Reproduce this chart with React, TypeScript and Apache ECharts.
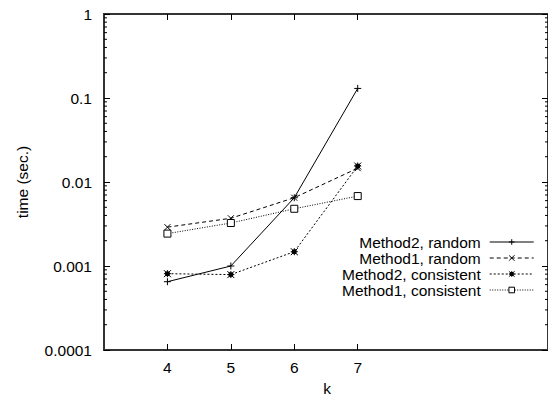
import React, { useEffect, useRef } from "react";
import * as echarts from "echarts";

const kValues = [4, 5, 6, 7];
const method2Random = [0.00065, 0.001, 0.0065, 0.13];
const method1Random = [0.0029, 0.0037, 0.0065, 0.0146];
const method2Consistent = [0.00081, 0.00079, 0.00148, 0.0155];
const method1Consistent = [0.00243, 0.00325, 0.0048, 0.0068];

const seriesNames = [
  "Method2, random",
  "Method1, random",
  "Method2, consistent",
  "Method1, consistent",
];
const xTicks = [4, 5, 6, 7];
const yTickLabels = ["0.0001", "0.001", "0.01", "0.1", "1"];
const yDecades = [0.0001, 0.001, 0.01, 0.1];
const minorMultipliers = [2, 3, 4, 5, 6, 7, 8, 9];

const FONT = "'Liberation Sans', Arial, Helvetica, sans-serif";

export default function App() {
  const ref = useRef<HTMLDivElement>(null);
  useEffect(() => {
    if (!ref.current) return;
    const chart = echarts.init(ref.current, undefined, { renderer: "svg" });
    const pairs = (ys: number[]) => kValues.map((k, i) => [k, ys[i]]);
    const minorData: number[][] = [];
    yDecades.forEach((d) => minorMultipliers.forEach((m) => minorData.push([3, d * m])));

    const lineBase = (name: string, ys: number[], dash: any, symbol: string, size: number, fill: string) => ({
      name,
      type: "line",
      data: pairs(ys),
      symbol,
      symbolSize: size,
      showSymbol: true,
      lineStyle: { color: "#000", width: 1, type: dash },
      itemStyle: { color: fill, borderColor: "#000", borderWidth: 1 },
      emphasis: { disabled: true },
      z: 3,
    });

    chart.setOption({
      animation: false,
      textStyle: { fontFamily: FONT },
      grid: {
        left: 104,
        top: 14,
        width: 448,
        height: 336,
        show: true,
        borderColor: "#333",
        borderWidth: 2,
        backgroundColor: "transparent",
      },
      xAxis: [
        {
          type: "value",
          min: 3,
          max: 10,
          axisLine: { show: false },
          splitLine: { show: false },
          axisTick: { show: true, inside: true, length: 6, customValues: xTicks, lineStyle: { color: "#000", width: 1 } },
          axisLabel: { customValues: xTicks, margin: 9, color: "#000", fontSize: 15.5, fontFamily: FONT },
        },
        {
          type: "value",
          position: "top",
          min: 3,
          max: 10,
          axisLine: { show: false },
          splitLine: { show: false },
          axisTick: { show: true, inside: true, length: 6, customValues: xTicks, lineStyle: { color: "#000", width: 1 } },
          axisLabel: { show: false },
        },
      ],
      yAxis: [
        {
          type: "log",
          logBase: 10,
          min: 0.0001,
          max: 1,
          axisLine: { show: false },
          splitLine: { show: false },
          axisTick: { show: true, inside: true, length: 6, lineStyle: { color: "#000", width: 1 } },
          axisLabel: {
            margin: 12,
            color: "#000",
            fontSize: 15.5,
            fontFamily: FONT,
            formatter: (v: number) => {
              const idx = Math.round(Math.log10(v)) + 4;
              return yTickLabels[idx] ?? "";
            },
          },
        },
        {
          type: "log",
          logBase: 10,
          min: 0.0001,
          max: 1,
          position: "right",
          axisLine: { show: false },
          splitLine: { show: false },
          axisTick: { show: true, inside: true, length: 6, lineStyle: { color: "#000", width: 1 } },
          axisLabel: { show: false },
        },
      ],
      legend: {
        data: seriesNames,
        orient: "vertical",
        left: 337,
        top: 229,
        align: "right",
        itemWidth: 44,
        itemHeight: 7,
        itemGap: 0,
        selectedMode: false,
        lineStyle: { width: 1 },
        itemStyle: { borderWidth: 1 },
        textStyle: {
          fontSize: 15.5,
          color: "#000",
          fontFamily: FONT,
          width: 136,
          align: "right",
          padding: [0, 4, 0, 0],
        },
      },
      series: [
        lineBase(seriesNames[0], method2Random, "solid", "path://M0,4H8M4,0V8", 7, "none"),
        lineBase(seriesNames[1], method1Random, [4, 3], "path://M0,0L8,8M8,0L0,8", 6, "none"),
        lineBase(
          seriesNames[2],
          method2Consistent,
          [2, 2],
          "path://M2,2H6V6H2Z M0,4H8 M4,0V8 M0,0L8,8 M8,0L0,8",
          7,
          "#000"
        ),
        lineBase(seriesNames[3], method1Consistent, [1, 1.5], "rect", 7, "#fff"),
        {
          type: "custom",
          name: "minorTicks",
          silent: true,
          data: minorData,
          clip: false,
          renderItem: (params: any, api: any) => {
            const p = api.coord([3, api.value(1)]);
            const pr = api.coord([10, api.value(1)]);
            const style = { stroke: "#000", lineWidth: 1 };
            return {
              type: "group",
              children: [
                { type: "line", shape: { x1: p[0], y1: p[1], x2: p[0] + 3, y2: p[1] }, style },
                { type: "line", shape: { x1: pr[0], y1: pr[1], x2: pr[0] - 3, y2: pr[1] }, style },
              ],
            };
          },
        },
      ],
      graphic: [
        {
          type: "text",
          x: 22,
          y: 182,
          rotation: Math.PI / 2,
          style: {
            text: "time (sec.)",
            fontSize: 15.5,
            fontFamily: FONT,
            fill: "#000",
            align: "center",
            verticalAlign: "middle",
          },
        },
        {
          type: "text",
          x: 327,
          y: 388,
          style: {
            text: "k",
            fontSize: 15.5,
            fontFamily: FONT,
            fill: "#000",
            align: "center",
            verticalAlign: "middle",
          },
        },
      ],
    });
    return () => chart.dispose();
  }, []);
  return (
    <div
      ref={ref}
      style={{ position: "fixed", left: 0, top: 0, width: 548, height: 401, background: "#fff" }}
    />
  );
}
